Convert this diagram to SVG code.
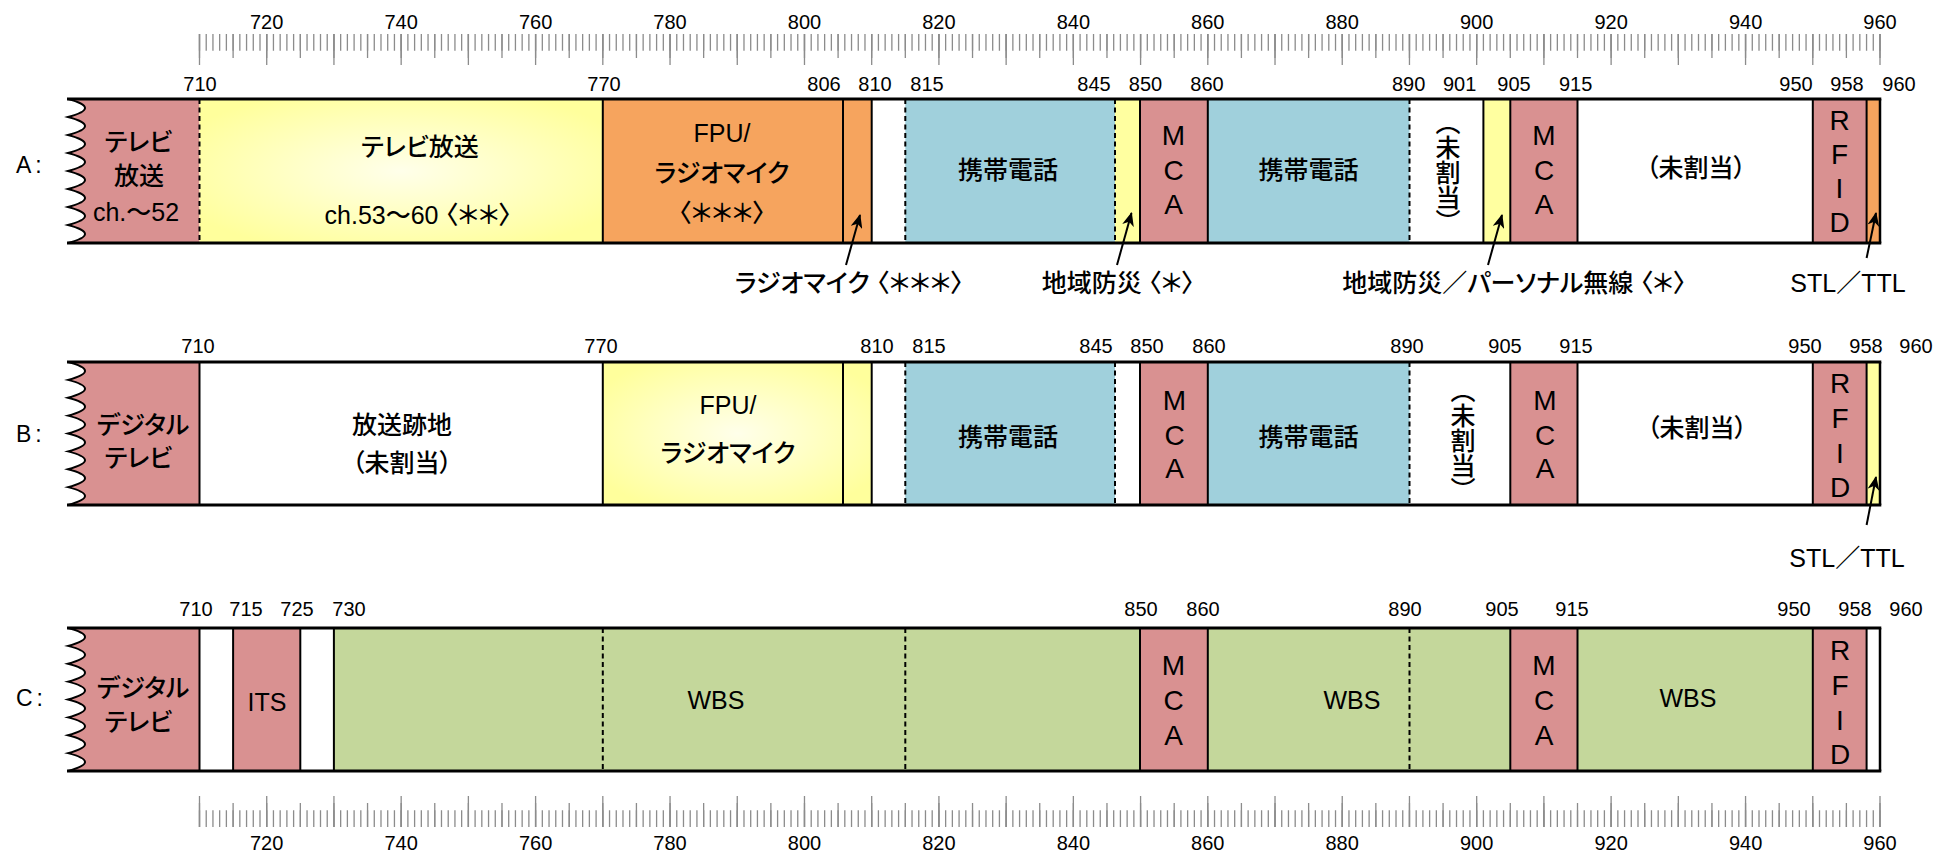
<svg xmlns="http://www.w3.org/2000/svg" width="1950" height="859" viewBox="0 0 1950 859">
<defs>
<style>
text { font-family: "Liberation Sans", "Noto Sans CJK JP", sans-serif; fill: #000; font-feature-settings: "palt"; }
.t { font-size: 25px; font-weight: 500; text-anchor: middle; dominant-baseline: central; }
.v { font-size: 25px; font-weight: 500; text-anchor: middle; writing-mode: tb; font-feature-settings: "vpal"; }
.l { font-size: 28px; text-anchor: middle; dominant-baseline: central; }
.n { font-size: 20px; text-anchor: middle; }
.rl { font-size: 23px; letter-spacing: 4px; }
.sep { stroke: #000; stroke-width: 2; }
.edge { stroke: #000; stroke-width: 2.5; }
.dash { stroke: #000; stroke-width: 2; stroke-dasharray: 5 3.5; }
.bd { stroke: #000; stroke-width: 3; fill: none; }
.wave { stroke: #000; stroke-width: 2; fill: none; }
.pink { fill: #D99191; }
.orange { fill: #F6A45E; }
.blue { fill: #A0D0DC; }
.yellow { fill: #FFFFA0; }
.green { fill: #C4D79B; }
.grad { fill: url(#yg); }
.tick { stroke: #8C8C8C; fill: none; }
.ts { stroke-width: 16.7px; stroke-dasharray: 1.3 5.422; }
.tm { stroke-width: 24px; stroke-dasharray: 1.3 32.31; }
.tl { stroke-width: 31px; stroke-dasharray: 1.3 65.92; }
.arrow { stroke: #000; stroke-width: 2; fill: none; marker-end: url(#ah); }
</style>
<radialGradient id="yg" cx="0.5" cy="0.5" r="0.6">
<stop offset="0" stop-color="#FFFFEA"/>
<stop offset="1" stop-color="#FFFF9C"/>
</radialGradient>
<marker id="ah" viewBox="0 0 14 12" refX="13" refY="6" markerWidth="14" markerHeight="12" markerUnits="userSpaceOnUse" orient="auto">
<path d="M0,0 L14,6 L0,12 L4,6 Z" fill="#000"/>
</marker>
</defs>
<rect width="1950" height="859" fill="#FFFFFF"/>

<g id="ruler-top">
<line class="tick ts" x1="198.85" y1="42.35" x2="1881" y2="42.35"/>
<line class="tick tm" x1="198.85" y1="46" x2="1881" y2="46"/>
<line class="tick tl" x1="198.85" y1="49.5" x2="1881" y2="49.5"/>
<text class="n" x="266.7" y="28.5">720</text>
<text class="n" x="401.2" y="28.5">740</text>
<text class="n" x="535.6" y="28.5">760</text>
<text class="n" x="670" y="28.5">780</text>
<text class="n" x="804.5" y="28.5">800</text>
<text class="n" x="938.9" y="28.5">820</text>
<text class="n" x="1073.4" y="28.5">840</text>
<text class="n" x="1207.8" y="28.5">860</text>
<text class="n" x="1342.2" y="28.5">880</text>
<text class="n" x="1476.7" y="28.5">900</text>
<text class="n" x="1611.1" y="28.5">920</text>
<text class="n" x="1745.6" y="28.5">940</text>
<text class="n" x="1880" y="28.5">960</text>
</g>

<g id="ruler-bottom">
<line class="tick ts" x1="198.85" y1="818.65" x2="1881" y2="818.65"/>
<line class="tick tm" x1="198.85" y1="815" x2="1881" y2="815"/>
<line class="tick tl" x1="198.85" y1="811.5" x2="1881" y2="811.5"/>
<text class="n" x="266.7" y="850">720</text>
<text class="n" x="401.2" y="850">740</text>
<text class="n" x="535.6" y="850">760</text>
<text class="n" x="670" y="850">780</text>
<text class="n" x="804.5" y="850">800</text>
<text class="n" x="938.9" y="850">820</text>
<text class="n" x="1073.4" y="850">840</text>
<text class="n" x="1207.8" y="850">860</text>
<text class="n" x="1342.2" y="850">880</text>
<text class="n" x="1476.7" y="850">900</text>
<text class="n" x="1611.1" y="850">920</text>
<text class="n" x="1745.6" y="850">940</text>
<text class="n" x="1880" y="850">960</text>
</g>

<!-- ROW A -->
<g id="rowA">
<text class="rl" x="16" y="173">A:</text>
<g id="rowA-freqs">
<text class="n" x="200" y="90.5">710</text>
<text class="n" x="604" y="90.5">770</text>
<text class="n" x="824" y="90.5">806</text>
<text class="n" x="875" y="90.5">810</text>
<text class="n" x="927" y="90.5">815</text>
<text class="n" x="1094" y="90.5">845</text>
<text class="n" x="1145.5" y="90.5">850</text>
<text class="n" x="1207" y="90.5">860</text>
<text class="n" x="1408.6" y="90.5">890</text>
<text class="n" x="1459.6" y="90.5">901</text>
<text class="n" x="1514" y="90.5">905</text>
<text class="n" x="1575.6" y="90.5">915</text>
<text class="n" x="1796" y="90.5">950</text>
<text class="n" x="1847" y="90.5">958</text>
<text class="n" x="1899" y="90.5">960</text>
</g>
<g id="A-tv">
<path class="pink" d="M68,99 Q102,108 68,117 Q102,126 68,135 Q102,144 68,153 Q102,162 68,171 Q102,180 68,189 Q102,198 68,207 Q102,216 68,225 Q102,234 68,243 L199.5,243 L199.5,99 Z"/>
<text class="t" x="138.5" y="141.5">テレビ</text>
<text class="t" x="139" y="176">放送</text>
<text class="t" x="136" y="212">ch.～52</text>
</g>
<g id="A-tv53">
<rect class="grad" x="199.5" y="99" width="403.3" height="144"/>
<text class="t" x="420" y="147">テレビ放送</text>
<text class="t" x="418" y="215">ch.53～60 〈＊＊〉</text>
</g>
<g id="A-fpu">
<rect class="orange" x="602.8" y="99" width="268.9" height="144"/>
<text class="t" x="722" y="133">FPU/</text>
<text class="t" x="722" y="173">ラジオマイク</text>
<text class="t" x="722" y="213">〈＊＊＊〉</text>
</g>
<g id="A-mobile1">
<rect class="blue" x="905.3" y="99" width="209.7" height="144"/>
<text class="t" x="1008" y="170">携帯電話</text>
</g>
<g id="A-bousai">
<rect class="yellow" x="1115" y="99" width="25" height="144"/>
</g>
<g id="A-mca1">
<rect class="pink" x="1140" y="99" width="67.8" height="144"/>
<text class="l" x="1173.5" y="135">M</text>
<text class="l" x="1173.5" y="170">C</text>
<text class="l" x="1173.5" y="204">A</text>
</g>
<g id="A-mobile2">
<rect class="blue" x="1207.8" y="99" width="201.7" height="144"/>
<text class="t" x="1308.5" y="170">携帯電話</text>
</g>
<g id="A-unalloc1">
<text class="v" x="1446" y="172">（未割当）</text>
</g>
<g id="A-personal">
<rect class="yellow" x="1483.4" y="99" width="26.9" height="144"/>
</g>
<g id="A-mca2">
<rect class="pink" x="1510.3" y="99" width="67.2" height="144"/>
<text class="l" x="1544" y="135">M</text>
<text class="l" x="1544" y="170">C</text>
<text class="l" x="1544" y="204">A</text>
</g>
<g id="A-unalloc2">
<text class="t" x="1696" y="168">（未割当）</text>
</g>
<g id="A-rfid">
<rect class="pink" x="1812.8" y="99" width="53.8" height="144"/>
<text class="l" x="1839.5" y="120">R</text>
<text class="l" x="1839.5" y="154">F</text>
<text class="l" x="1839.5" y="188">I</text>
<text class="l" x="1839.5" y="222">D</text>
</g>
<g id="A-stl">
<rect class="orange" x="1866.6" y="99" width="13.4" height="144"/>
</g>
<g id="A-lines">
<line class="dash" x1="199.5" y1="99" x2="199.5" y2="243"/>
<line class="sep" x1="602.8" y1="99" x2="602.8" y2="243"/>
<line class="sep" x1="843" y1="99" x2="843" y2="243"/>
<line class="sep" x1="871.7" y1="99" x2="871.7" y2="243"/>
<line class="dash" x1="905.3" y1="99" x2="905.3" y2="243"/>
<line class="dash" x1="1115" y1="99" x2="1115" y2="243"/>
<line class="sep" x1="1140" y1="99" x2="1140" y2="243"/>
<line class="sep" x1="1207.8" y1="99" x2="1207.8" y2="243"/>
<line class="dash" x1="1409.5" y1="99" x2="1409.5" y2="243"/>
<line class="sep" x1="1483.4" y1="99" x2="1483.4" y2="243"/>
<line class="sep" x1="1510.3" y1="99" x2="1510.3" y2="243"/>
<line class="sep" x1="1577.5" y1="99" x2="1577.5" y2="243"/>
<line class="sep" x1="1812.8" y1="99" x2="1812.8" y2="243"/>
<line class="sep" x1="1866.6" y1="99" x2="1866.6" y2="243"/>
<line class="edge" x1="1880" y1="99" x2="1880" y2="243"/>
<path class="wave" d="M68,99 Q102,108 68,117 Q102,126 68,135 Q102,144 68,153 Q102,162 68,171 Q102,180 68,189 Q102,198 68,207 Q102,216 68,225 Q102,234 68,243"/>
<line class="bd" x1="67" y1="99" x2="1881.3" y2="99"/>
<line class="bd" x1="67" y1="243" x2="1881.3" y2="243"/>
</g>
<g id="A-callouts">
<text class="t" x="849" y="283">ラジオマイク 〈＊＊＊〉</text>
<text class="t" x="1118" y="283">地域防災 〈＊〉</text>
<text class="t" x="1514" y="283">地域防災／パーソナル無線 〈＊〉</text>
<text class="t" x="1848" y="283">STL／TTL</text>
</g>
</g>

<!-- ROW B -->
<g id="rowB">
<text class="rl" x="16" y="441.5">B:</text>
<g id="rowB-freqs">
<text class="n" x="198" y="353">710</text>
<text class="n" x="601" y="353">770</text>
<text class="n" x="877" y="353">810</text>
<text class="n" x="929" y="353">815</text>
<text class="n" x="1096" y="353">845</text>
<text class="n" x="1147" y="353">850</text>
<text class="n" x="1209" y="353">860</text>
<text class="n" x="1407" y="353">890</text>
<text class="n" x="1505" y="353">905</text>
<text class="n" x="1576" y="353">915</text>
<text class="n" x="1805" y="353">950</text>
<text class="n" x="1866" y="353">958</text>
<text class="n" x="1916" y="353">960</text>
</g>
<g id="B-dtv">
<path class="pink" d="M68,362 Q102,370.94 68,379.88 Q102,388.81 68,397.75 Q102,406.69 68,415.63 Q102,424.56 68,433.5 Q102,442.44 68,451.38 Q102,460.31 68,469.25 Q102,478.19 68,487.13 Q102,496.06 68,505 L199.5,505 L199.5,362 Z"/>
<text class="t" x="143" y="425">デジタル</text>
<text class="t" x="138.5" y="458">テレビ</text>
</g>
<g id="B-vacant">
<text class="t" x="402" y="425">放送跡地</text>
<text class="t" x="402" y="463">（未割当）</text>
</g>
<g id="B-fpu">
<rect class="grad" x="602.8" y="362" width="268.9" height="143"/>
<text class="t" x="728" y="405">FPU/</text>
<text class="t" x="728" y="453">ラジオマイク</text>
</g>
<g id="B-mobile1">
<rect class="blue" x="905.3" y="362" width="209.7" height="143"/>
<text class="t" x="1008" y="437">携帯電話</text>
</g>
<g id="B-mca1">
<rect class="pink" x="1140" y="362" width="67.8" height="143"/>
<text class="l" x="1174.5" y="400">M</text>
<text class="l" x="1174.5" y="435">C</text>
<text class="l" x="1174.5" y="468">A</text>
</g>
<g id="B-mobile2">
<rect class="blue" x="1207.8" y="362" width="201.7" height="143"/>
<text class="t" x="1308.5" y="437">携帯電話</text>
</g>
<g id="B-unalloc1">
<text class="v" x="1461" y="440">（未割当）</text>
</g>
<g id="B-mca2">
<rect class="pink" x="1510.3" y="362" width="67.2" height="143"/>
<text class="l" x="1545" y="400">M</text>
<text class="l" x="1545" y="435">C</text>
<text class="l" x="1545" y="468">A</text>
</g>
<g id="B-unalloc2">
<text class="t" x="1697" y="428">（未割当）</text>
</g>
<g id="B-rfid">
<rect class="pink" x="1812.8" y="362" width="53.8" height="143"/>
<text class="l" x="1840" y="383">R</text>
<text class="l" x="1840" y="418">F</text>
<text class="l" x="1840" y="453">I</text>
<text class="l" x="1840" y="487">D</text>
</g>
<g id="B-stl">
<rect class="yellow" x="1866.6" y="362" width="13.4" height="143"/>
</g>
<g id="B-lines">
<line class="sep" x1="199.5" y1="362" x2="199.5" y2="505"/>
<line class="sep" x1="602.8" y1="362" x2="602.8" y2="505"/>
<line class="sep" x1="843" y1="362" x2="843" y2="505"/>
<line class="sep" x1="871.7" y1="362" x2="871.7" y2="505"/>
<line class="dash" x1="905.3" y1="362" x2="905.3" y2="505"/>
<line class="dash" x1="1115" y1="362" x2="1115" y2="505"/>
<line class="sep" x1="1140" y1="362" x2="1140" y2="505"/>
<line class="sep" x1="1207.8" y1="362" x2="1207.8" y2="505"/>
<line class="dash" x1="1409.5" y1="362" x2="1409.5" y2="505"/>
<line class="sep" x1="1510.3" y1="362" x2="1510.3" y2="505"/>
<line class="sep" x1="1577.5" y1="362" x2="1577.5" y2="505"/>
<line class="sep" x1="1812.8" y1="362" x2="1812.8" y2="505"/>
<line class="sep" x1="1866.6" y1="362" x2="1866.6" y2="505"/>
<line class="edge" x1="1880" y1="362" x2="1880" y2="505"/>
<path class="wave" d="M68,362 Q102,370.94 68,379.88 Q102,388.81 68,397.75 Q102,406.69 68,415.63 Q102,424.56 68,433.5 Q102,442.44 68,451.38 Q102,460.31 68,469.25 Q102,478.19 68,487.13 Q102,496.06 68,505"/>
<line class="bd" x1="67" y1="362" x2="1881.3" y2="362"/>
<line class="bd" x1="67" y1="505" x2="1881.3" y2="505"/>
</g>
<g id="B-callouts">
<text class="t" x="1847" y="558">STL／TTL</text>
</g>
</g>

<!-- ROW C -->
<g id="rowC">
<text class="rl" x="16" y="706">C:</text>
<g id="rowC-freqs">
<text class="n" x="196" y="616">710</text>
<text class="n" x="246" y="616">715</text>
<text class="n" x="297" y="616">725</text>
<text class="n" x="349" y="616">730</text>
<text class="n" x="1141" y="616">850</text>
<text class="n" x="1203" y="616">860</text>
<text class="n" x="1405" y="616">890</text>
<text class="n" x="1502" y="616">905</text>
<text class="n" x="1572" y="616">915</text>
<text class="n" x="1794" y="616">950</text>
<text class="n" x="1855" y="616">958</text>
<text class="n" x="1906" y="616">960</text>
</g>
<g id="C-dtv">
<path class="pink" d="M68,628 Q102,636.94 68,645.88 Q102,654.81 68,663.75 Q102,672.69 68,681.63 Q102,690.56 68,699.5 Q102,708.44 68,717.38 Q102,726.31 68,735.25 Q102,744.19 68,753.13 Q102,762.06 68,771 L199.5,771 L199.5,628 Z"/>
<text class="t" x="143" y="688">デジタル</text>
<text class="t" x="138.5" y="722">テレビ</text>
</g>
<g id="C-its">
<rect class="pink" x="233.1" y="628" width="67.2" height="143"/>
<text class="t" x="267" y="702">ITS</text>
</g>
<g id="C-wbs1">
<rect class="green" x="333.9" y="628" width="806.1" height="143"/>
<text class="t" x="716" y="700">WBS</text>
</g>
<g id="C-mca1">
<rect class="pink" x="1140" y="628" width="67.8" height="143"/>
<text class="l" x="1173.5" y="665">M</text>
<text class="l" x="1173.5" y="700">C</text>
<text class="l" x="1173.5" y="735">A</text>
</g>
<g id="C-wbs2">
<rect class="green" x="1207.8" y="628" width="302.5" height="143"/>
<text class="t" x="1352" y="700">WBS</text>
</g>
<g id="C-mca2">
<rect class="pink" x="1510.3" y="628" width="67.2" height="143"/>
<text class="l" x="1544" y="665">M</text>
<text class="l" x="1544" y="700">C</text>
<text class="l" x="1544" y="735">A</text>
</g>
<g id="C-wbs3">
<rect class="green" x="1577.5" y="628" width="235.3" height="143"/>
<text class="t" x="1688" y="698">WBS</text>
</g>
<g id="C-rfid">
<rect class="pink" x="1812.8" y="628" width="53.8" height="143"/>
<text class="l" x="1840" y="650">R</text>
<text class="l" x="1840" y="685">F</text>
<text class="l" x="1840" y="720">I</text>
<text class="l" x="1840" y="754">D</text>
</g>
<g id="C-lines">
<line class="sep" x1="199.5" y1="628" x2="199.5" y2="771"/>
<line class="sep" x1="233.1" y1="628" x2="233.1" y2="771"/>
<line class="sep" x1="300.3" y1="628" x2="300.3" y2="771"/>
<line class="sep" x1="333.9" y1="628" x2="333.9" y2="771"/>
<line class="dash" x1="602.8" y1="628" x2="602.8" y2="771"/>
<line class="dash" x1="905.3" y1="628" x2="905.3" y2="771"/>
<line class="sep" x1="1140" y1="628" x2="1140" y2="771"/>
<line class="sep" x1="1207.8" y1="628" x2="1207.8" y2="771"/>
<line class="dash" x1="1409.5" y1="628" x2="1409.5" y2="771"/>
<line class="sep" x1="1510.3" y1="628" x2="1510.3" y2="771"/>
<line class="sep" x1="1577.5" y1="628" x2="1577.5" y2="771"/>
<line class="sep" x1="1812.8" y1="628" x2="1812.8" y2="771"/>
<line class="sep" x1="1866.6" y1="628" x2="1866.6" y2="771"/>
<line class="edge" x1="1880" y1="628" x2="1880" y2="771"/>
<path class="wave" d="M68,628 Q102,636.94 68,645.88 Q102,654.81 68,663.75 Q102,672.69 68,681.63 Q102,690.56 68,699.5 Q102,708.44 68,717.38 Q102,726.31 68,735.25 Q102,744.19 68,753.13 Q102,762.06 68,771"/>
<line class="bd" x1="67" y1="628" x2="1881.3" y2="628"/>
<line class="bd" x1="67" y1="771" x2="1881.3" y2="771"/>
</g>
</g>

<g id="connectors">
<line class="arrow" x1="846" y1="265" x2="860" y2="215"/>
<line class="arrow" x1="1117" y1="265" x2="1131.5" y2="213"/>
<line class="arrow" x1="1488" y1="265" x2="1502" y2="215"/>
<line class="arrow" x1="1866.6" y1="258" x2="1876" y2="213"/>
<line class="arrow" x1="1866.6" y1="525" x2="1876" y2="477"/>
</g>
</svg>
